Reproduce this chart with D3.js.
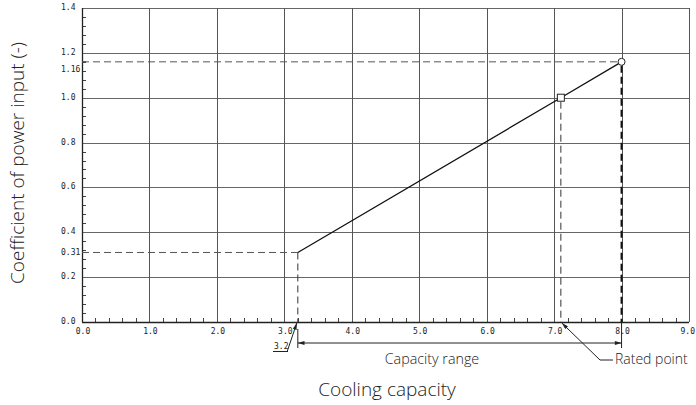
<!DOCTYPE html>
<html>
<head>
<meta charset="utf-8">
<script src="https://cdn.jsdelivr.net/npm/d3@7"></script>
<style>
  body { margin: 0; background: #fff; }
  .tick-label { font-family: "DejaVu Sans Mono", monospace; font-size: 8px; fill: #222; }
  .title { font-family: "Open Sans", sans-serif; font-weight: 300; fill: #222; }
</style>
</head>
<body>
<svg id="chart"></svg>
<script>
// chart data
const xTicks = [0, 1, 2, 3, 4, 5, 6, 7, 8, 9];
const xTickLabels = ["0.0", "1.0", "2.0", "3.0", "4.0", "5.0", "6.0", "7.0", "8.0", "9.0"];
const yTicks = [0, 0.2, 0.4, 0.6, 0.8, 1.0, 1.2, 1.4];
const yTickLabels = ["0.0", "0.2", "0.4", "0.6", "0.8", "1.0", "1.2", "1.4"];
const markedY = [0.31, 1.16];
const markedYLabels = ["0.31", "1.16"];
const curveX = [3.2, 7.1, 8.0];
const curveY = [0.31, 1.0, 1.16];
const ratedPoint = [7.1, 1.0];
const maxPoint = [8.0, 1.16];
const rangeMin = 3.2;
const rangeMax = 8.0;

const width = 696, height = 405;
const svg = d3.select("#chart").attr("width", width).attr("height", height);

const x = d3.scaleLinear().domain([0, 9]).range([82, 689]);
const y = d3.scaleLinear().domain([0, 1.4]).range([322, 8]);

svg.append("defs").append("marker")
    .attr("id", "arrow")
    .attr("viewBox", "0 0 10 6")
    .attr("refX", 10).attr("refY", 3)
    .attr("markerWidth", 8).attr("markerHeight", 4)
    .attr("markerUnits", "userSpaceOnUse")
    .attr("orient", "auto-start-reverse")
    .append("path")
    .attr("d", "M0,0 L10,3 L0,6 Z")
    .attr("fill", "#222");

const grid = svg.append("g");

// horizontal grid
grid.selectAll(".hgrid")
    .data(yTicks)
    .enter()
    .append("line")
    .attr("x1", x(0)).attr("x2", x(9))
    .attr("y1", d => Math.round(y(d)) + 0.5)
    .attr("y2", d => Math.round(y(d)) + 0.5)
    .attr("stroke", "#666").attr("stroke-width", 1);

// vertical grid
grid.selectAll(".vgrid")
    .data(xTicks)
    .enter()
    .append("line")
    .attr("y1", y(0)).attr("y2", y(1.4))
    .attr("x1", d => Math.round(x(d)) + 0.5)
    .attr("x2", d => Math.round(x(d)) + 0.5)
    .attr("stroke", "#555").attr("stroke-width", 1);

// minor ticks on the axes
const yMinor = d3.range(0, 71).map(i => i * 0.02).filter((d, i) => i % 2 === 0 && i % 10 !== 0);
svg.selectAll(".ymin")
    .data(yMinor)
    .enter()
    .append("line")
    .attr("x1", x(0)).attr("x2", x(0) + 4)
    .attr("y1", d => Math.round(y(d)) + 0.5)
    .attr("y2", d => Math.round(y(d)) + 0.5)
    .attr("stroke", "#444");

const xMinor = d3.range(0, 46).map(i => i * 0.2).filter((d, i) => i % 5 !== 0);
svg.selectAll(".xmin")
    .data(xMinor)
    .enter()
    .append("line")
    .attr("y1", y(0)).attr("y2", y(0) - 4)
    .attr("x1", d => Math.round(x(d)) + 0.5)
    .attr("x2", d => Math.round(x(d)) + 0.5)
    .attr("stroke", "#444");

// axis frame
svg.append("line").attr("x1", x(0)).attr("x2", x(9))
    .attr("y1", y(0) + 0.5).attr("y2", y(0) + 0.5).attr("stroke", "#222").attr("stroke-width", 1.3);
svg.append("line").attr("x1", x(0) + 0.5).attr("x2", x(0) + 0.5)
    .attr("y1", y(0)).attr("y2", y(1.4)).attr("stroke", "#222").attr("stroke-width", 1.3);

// tick labels
svg.selectAll(".ylab")
    .data(yTicks)
    .enter()
    .append("text")
    .attr("class", "tick-label")
    .attr("x", 61)
    .attr("y", d => y(d) + 2)
    .text((d, i) => yTickLabels[i]);

svg.selectAll(".ylab2")
    .data(markedY)
    .enter()
    .append("text")
    .attr("class", "tick-label")
    .attr("x", 61)
    .attr("y", (d, i) => y(d) + (i === 1 ? 10 : 3))
    .text((d, i) => markedYLabels[i]);

svg.selectAll(".ymark")
    .data(markedY)
    .enter()
    .append("line")
    .attr("x1", x(0)).attr("x2", x(0) + 4)
    .attr("y1", d => y(d)).attr("y2", d => y(d))
    .attr("stroke", "#444");

svg.selectAll(".xlab")
    .data(xTicks)
    .enter()
    .append("text")
    .attr("class", "tick-label")
    .attr("text-anchor", (d, i) => i === xTicks.length - 1 ? "end" : "middle")
    .attr("x", (d, i) => i === xTicks.length - 1 ? 695 : x(d) + 1)
    .attr("y", y(0) + 12)
    .text((d, i) => xTickLabels[i]);

// dashed guide lines
const guides = svg.append("g").attr("fill", "none");
guides.append("line")
    .attr("x1", x(0)).attr("x2", x(maxPoint[0]))
    .attr("y1", y(maxPoint[1])).attr("y2", y(maxPoint[1]))
    .attr("stroke", "#555").attr("stroke-dasharray", "7,4");
guides.append("line")
    .attr("x1", x(0)).attr("x2", x(rangeMin))
    .attr("y1", y(curveY[0])).attr("y2", y(curveY[0]))
    .attr("stroke", "#555").attr("stroke-dasharray", "7,4");
guides.append("line")
    .attr("x1", x(maxPoint[0])).attr("x2", x(maxPoint[0]))
    .attr("y1", y(maxPoint[1]) + 4).attr("y2", y(0))
    .attr("stroke", "#111").attr("stroke-width", 2).attr("stroke-dasharray", "7,4");
guides.append("line")
    .attr("x1", x(ratedPoint[0])).attr("x2", x(ratedPoint[0]))
    .attr("y1", y(ratedPoint[1]) + 4).attr("y2", y(0))
    .attr("stroke", "#333").attr("stroke-dasharray", "7,4");
guides.append("line")
    .attr("x1", x(rangeMin)).attr("x2", x(rangeMin))
    .attr("y1", y(curveY[0])).attr("y2", y(0))
    .attr("stroke", "#333").attr("stroke-dasharray", "7,4");

// characteristic line
svg.append("path")
    .datum(curveX.map((d, i) => [d, curveY[i]]))
    .attr("d", d3.line().x(d => x(d[0])).y(d => y(d[1])))
    .attr("fill", "none").attr("stroke", "#111").attr("stroke-width", 1.3);

svg.append("rect")
    .attr("x", x(ratedPoint[0]) - 3.5).attr("y", y(ratedPoint[1]) - 3.5)
    .attr("width", 7).attr("height", 7)
    .attr("fill", "#fff").attr("stroke", "#222");
svg.append("circle")
    .attr("cx", x(maxPoint[0])).attr("cy", y(maxPoint[1])).attr("r", 3.5)
    .attr("fill", "#fff").attr("stroke", "#222");

// capacity range dimension
const dimY = 343;
svg.append("line")
    .attr("x1", x(rangeMin)).attr("x2", x(rangeMin))
    .attr("y1", 329).attr("y2", 348).attr("stroke", "#222");
svg.append("line")
    .attr("x1", x(rangeMax)).attr("x2", x(rangeMax))
    .attr("y1", y(0)).attr("y2", 348).attr("stroke", "#222");
svg.append("line")
    .attr("x1", x(rangeMin)).attr("x2", x(rangeMax))
    .attr("y1", dimY).attr("y2", dimY)
    .attr("stroke", "#222")
    .attr("marker-start", "url(#arrow)").attr("marker-end", "url(#arrow)");
svg.append("text")
    .attr("class", "title")
    .attr("x", 432).attr("y", 364)
    .attr("text-anchor", "middle")
    .attr("font-size", 14.3)
    .text("Capacity range");

// 3.2 leader
svg.append("line")
    .attr("x1", 287).attr("y1", 352)
    .attr("x2", x(rangeMin) - 1).attr("y2", y(0) + 1)
    .attr("stroke", "#222").attr("marker-end", "url(#arrow)");
svg.append("text")
    .attr("class", "tick-label")
    .attr("x", 274).attr("y", 349)
    .text("3.2");
svg.append("line")
    .attr("x1", 273).attr("x2", 288).attr("y1", 351.5).attr("y2", 351.5)
    .attr("stroke", "#222");

// rated point leader
svg.append("path")
    .attr("d", `M613,360 L600,360 L${x(ratedPoint[0]) + 1},${y(0) + 1}`)
    .attr("fill", "none").attr("stroke", "#222")
    .attr("marker-end", "url(#arrow)");
svg.append("text")
    .attr("class", "title")
    .attr("x", 615).attr("y", 364)
    .attr("font-size", 14)
    .text("Rated point");

// axis titles
svg.append("text")
    .attr("class", "title")
    .attr("x", 387).attr("y", 396)
    .attr("text-anchor", "middle")
    .attr("font-size", 19)
    .text("Cooling capacity");
svg.append("text")
    .attr("class", "title")
    .attr("transform", "translate(24,163) rotate(-90)")
    .attr("text-anchor", "middle")
    .attr("font-size", 19)
    .text("Coefficient of power input (-)");
</script>
</body>
</html>
